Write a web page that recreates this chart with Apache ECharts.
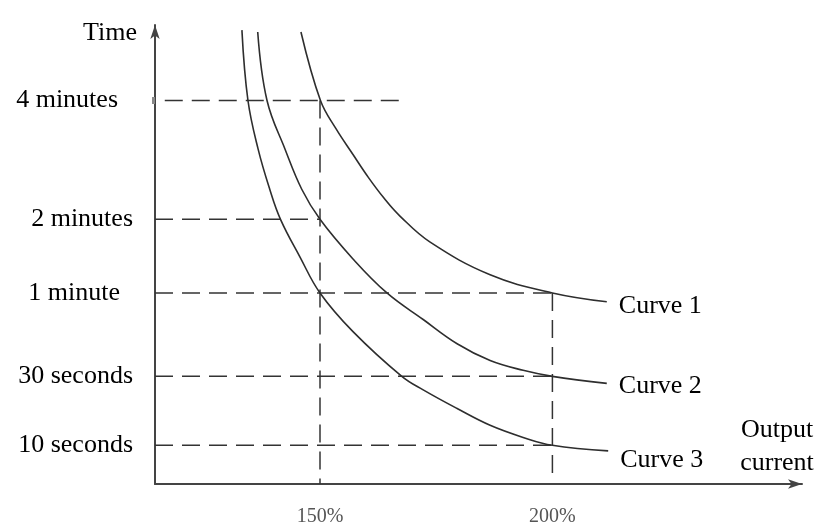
<!DOCTYPE html>
<html>
<head>
<meta charset="utf-8">
<script src="https://cdn.jsdelivr.net/npm/echarts@6/dist/echarts.min.js"></script>
<style>
  html, body { margin: 0; padding: 0; background: #fff; }
  #chart { width: 825px; height: 527px; }
</style>
</head>
<body>
<div id="chart"></div>
<script>
// y axis has no real time scale, values are just read off the picture (0 = x axis)
var timeLabels = ["10 seconds", "30 seconds", "1 minute", "2 minutes", "4 minutes"];
var timeLevels = [8.3, 23.1, 41.0, 56.8, 82.3];
var currentTicks = [150, 200];

var curveNames = ["Curve 1", "Curve 2", "Curve 3"];
var curve1 = [
  [145.9, 97.0], [150.1, 82.3], [153.4, 76.3], [157.1, 70.7], [160.4, 65.8],
  [163.8, 61.3], [167.2, 57.5], [173.7, 51.9], [186.6, 44.9], [200, 41.0],
  [211.7, 39.1]
];
var curve2 = [
  [136.6, 97.0], [138.6, 82.3], [142.5, 71.8], [146.1, 63.2], [150, 56.8],
  [157.1, 48.3], [164.4, 41.0], [172.2, 35.3], [179.5, 30.1], [186.6, 26.5],
  [193.7, 24.4], [200, 23.1], [211.7, 21.6]
];
var curve3 = [
  [133.2, 97.4], [134.5, 82.3], [136.7, 71.8], [139.2, 63.2], [141.5, 56.8],
  [145.7, 48.7], [150, 41.0], [157.1, 32.7], [167.6, 23.1], [172.2, 20.2],
  [179.5, 16.2], [186.6, 12.6], [193.7, 10.0], [200, 8.3], [212, 7.1]
];

// dashed guides: [level, fromCurrent, toCurrent] and [current, fromLevel, toLevel]
var hGuides = [
  [82.3, 116.6, 167.2],
  [56.8, 114.5, 150],
  [41.0, 114.5, 200],
  [23.1, 114.5, 200],
  [8.3, 114.5, 200]
];
var vGuides = [
  [150, 82.3, 0],
  [200, 41.0, 2.3]
];

var labelPad = { "4 minutes": 15, "1 minute": 13 };
var endOffsets = [[4, 4], [4, 3], [4, 9]];

var chart = echarts.init(document.getElementById("chart"));

var serif = "'Liberation Serif', 'Times New Roman', serif";
var dash = {
  color: "#333",
  width: 1.5,
  type: [18, 9]
};

var series = [];
hGuides.forEach(function (g) {
  series.push({
    type: "line",
    silent: true,
    symbol: "none",
    data: [[g[1], g[0]], [g[2], g[0]]],
    lineStyle: dash
  });
});
vGuides.forEach(function (g) {
  series.push({
    type: "line",
    silent: true,
    symbol: "none",
    data: [[g[0], g[1]], [g[0], g[2]]],
    lineStyle: dash
  });
});
[curve1, curve2, curve3].forEach(function (c, i) {
  series.push({
    name: curveNames[i],
    type: "line",
    silent: true,
    symbol: "none",
    smooth: 0.4,
    data: c,
    lineStyle: {
      color: "#2e2e2e",
      width: 1.6
    },
    endLabel: {
      show: true,
      formatter: "{a}",
      offset: endOffsets[i],
      color: "#000",
      fontFamily: serif,
      fontSize: 26
    }
  });
});

var options = {
  animation: false,
  grid: {
    left: 155,
    right: 23,
    top: 25,
    bottom: 41,
    containLabel: false
  },
  xAxis: {
    type: "value",
    min: 114.5,
    max: 253.7,
    name: "Output\ncurrent",
    nameLocation: "end",
    nameGap: -25,
    nameTextStyle: {
      align: "center",
      verticalAlign: "bottom",
      color: "#000",
      fontFamily: serif,
      fontSize: 26,
      lineHeight: 33,
      padding: [0, 0, 4, 0]
    },
    splitLine: { show: false },
    axisTick: { show: false },
    axisLine: {
      show: true,
      symbol: ["none", "arrow"],
      symbolSize: [7, 14],
      lineStyle: { color: "#444", width: 2 }
    },
    axisLabel: {
      customValues: currentTicks,
      formatter: function (v) { return v + "%"; },
      color: "#555",
      fontFamily: serif,
      fontSize: 20,
      margin: 23
    }
  },
  yAxis: {
    type: "value",
    min: 0,
    max: 98.5,
    name: "Time",
    nameLocation: "end",
    nameGap: -8,
    nameTextStyle: {
      align: "right",
      verticalAlign: "middle",
      color: "#000",
      fontFamily: serif,
      fontSize: 26,
      padding: [0, 18, 0, 0]
    },
    splitLine: { show: false },
    axisTick: {
      show: true,
      customValues: [timeLevels[4]],
      length: 3,
      lineStyle: { color: "#888", width: 7 }
    },
    axisLine: {
      show: true,
      symbol: ["none", "arrow"],
      symbolSize: [7, 14],
      lineStyle: { color: "#444", width: 2 }
    },
    axisLabel: {
      customValues: timeLevels,
      margin: 22,
      formatter: function (v) {
        var t = timeLabels[timeLevels.indexOf(v)];
        return labelPad[t] ? "{p" + labelPad[t] + "|" + t + "}" : t;
      },
      color: "#000",
      fontFamily: serif,
      fontSize: 26,
      rich: {
        p15: { padding: [0, 15, 0, 0], fontFamily: serif, fontSize: 26, color: "#000" },
        p13: { padding: [0, 13, 0, 0], fontFamily: serif, fontSize: 26, color: "#000" }
      }
    }
  },
  series: series
};

chart.setOption(options, true);
</script>
</body>
</html>
